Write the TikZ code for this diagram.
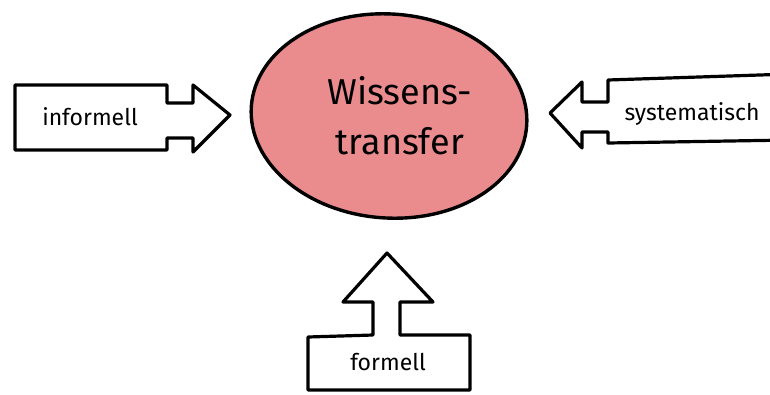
\documentclass[tikz,border=0pt]{standalone}
\usepackage{fontspec}
\setmainfont{Fira Sans}
\usetikzlibrary{shapes.geometric}
\definecolor{bubble}{RGB}{234,140,142}
\begin{document}
\begin{tikzpicture}[x=1pt,y=-1pt,
  outline/.style={draw=black,line width=3.2pt,line join=round,line cap=round},
  label/.style={font=\fontsize{23}{26}\selectfont,inner sep=0pt},
  biglabel/.style={font=\fontsize{36}{50}\selectfont,align=center,inner sep=0pt}]
\useasboundingbox[fill=white] (0,0) rectangle (770,394);
% central bubble
\node[ellipse,fill=bubble,outline,line width=3.4pt,minimum width=276pt,minimum height=204pt,rotate=-4,inner sep=0pt] (core) at (389,116) {};
\node[biglabel] (coretext) at (400,116) {Wissens-\\transfer};
% left arrow (informell)
\draw[outline] (15,85) -- (167,85) -- (167,103) -- (193,103) -- (193,85) -- (230,115)
  -- (193,152) -- (193,138) -- (167,138) -- (167,150) -- (15,150) -- cycle;
\node[label] (informell) at (90,117) {informell};
% right arrow (systematisch)
\draw[outline] (550,113) -- (582,82) -- (582,102) -- (608,102) -- (608,80) -- (790,74)
  -- (790,140) -- (608,143) -- (608,132) -- (582,132) -- (582,148) -- cycle;
\node[label] (systematisch) at (692,114) {systematisch};
% bottom arrow (formell)
\draw[outline] (387,253) -- (433,302) -- (400,302) -- (400,335) -- (470,335) -- (470,390)
  -- (308,390) -- (308,337) -- (373,335) -- (373,302) -- (343,302) -- cycle;
\node[label] (formell) at (388,362) {formell};
\end{tikzpicture}
\end{document}
